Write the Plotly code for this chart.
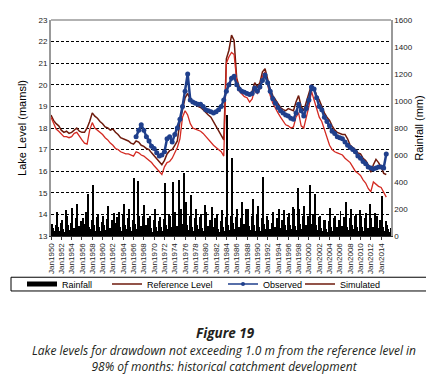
import plotly.graph_objects as go
import pandas as pd

# ---------------- data ----------------
# quarterly rainfall (mm), 1950 Q1 .. 2015 Q4
rain_q = [
    90, 60, 35, 80,    180, 70, 40, 95,    120, 55, 30, 190,   150, 85, 45, 100,
    210, 60, 35, 130,  240, 75, 50, 110,   130, 90, 40, 180,   312, 70, 55, 120,
    378, 85, 40, 140,  160, 65, 35, 105,   150, 80, 45, 125,   225, 60, 30, 115,
    170, 95, 50, 140,  180, 70, 40, 160,   240, 85, 55, 135,   200, 65, 35, 120,
    430, 90, 50, 407,  145, 75, 40, 150,   230, 80, 45, 130,   150, 60, 30, 120,
    200, 70, 40, 110,  140, 65, 35, 125,   392, 85, 50, 160,   145, 70, 400, 120,
    180, 75, 60, 415,  200, 90, 50, 465,   250, 80, 45, 150,   305, 70, 40, 130,
    200, 85, 55, 140,  160, 60, 35, 232,   180, 75, 45, 120,   215, 70, 40, 135,
    160, 55, 30, 110,  190, 65, 35, 140,   900, 80, 45, 150,   580, 95, 50, 140,
    200, 70, 40, 130,  254, 90, 55, 200,   200, 75, 45, 150,   276, 85, 40, 160,
    220, 70, 35, 130,  436, 90, 50, 150,   120, 55, 30, 100,   180, 70, 40, 130,
    200, 60, 35, 120,  190, 80, 45, 140,   170, 85, 50, 218,   200, 75, 45, 356,
    200, 90, 50, 150,  220, 80, 45, 150,   378, 90, 60, 160,   312, 80, 45, 140,
    150, 60, 35, 120,  120, 55, 30, 110,   204, 70, 40, 130,   150, 65, 35, 120,
    185, 75, 40, 140,  254, 70, 45, 130,   200, 80, 50, 150,   160, 65, 35, 190,
    150, 70, 40, 130,  170, 60, 35, 240,   130, 65, 40, 170,   150, 60, 35, 120,
    300, 70, 40, 110,  80, 50, 30, 60,
]

# half-yearly lake levels (m amsl), Jan/Jul, 1950 .. Jan 2015
ref_level = [
    18.6, 18.35, 18.2, 18.1, 17.9, 17.8, 17.85, 17.75, 17.8, 17.9,
    18.0, 17.85, 17.8, 17.8, 18.0, 18.3, 18.7, 18.55, 18.45, 18.3,
    18.2, 18.05, 18.0, 17.9, 17.95, 17.8, 17.7, 17.55, 17.5, 17.45,
    17.4, 17.3, 17.25, 17.4, 17.35, 17.2, 17.15, 17.05, 17.0, 16.85,
    16.7, 16.55, 16.45, 16.3, 16.5, 16.8, 16.95, 17.0, 17.2, 17.4,
    18.3, 18.9, 19.4, 19.6, 19.3, 19.2, 19.15, 19.0, 18.95, 18.85,
    18.7, 18.6, 18.5, 18.3, 18.1, 17.9, 17.7, 17.45, 21.2, 21.6,
    22.3, 22.05, 20.3, 19.9, 19.75, 19.7, 19.65, 19.55, 19.7, 20.1,
    19.9, 20.1, 20.6, 20.75, 20.3, 19.8, 19.5, 19.3, 19.1, 18.95,
    18.85, 18.8, 18.9, 18.85, 18.8, 19.2, 19.5, 19.0, 18.8, 19.2,
    19.6, 20.0, 19.85, 19.5, 19.3, 19.0, 18.7, 18.5, 18.35, 18.1,
    17.9, 17.8, 17.75, 17.7, 17.7, 17.5, 17.2, 17.1, 17.0, 16.85,
    16.8, 16.6, 16.5, 16.3, 15.95, 16.3, 16.55, 16.4, 16.2, 15.9,
    15.85,
]

simulated = [
    18.5, 18.2, 17.95, 17.85, 17.7, 17.6, 17.6, 17.55, 17.6, 17.75,
    17.8, 17.6, 17.45, 17.3, 17.25, 17.9, 18.25, 18.0, 17.9, 17.8,
    17.7, 17.55, 17.45, 17.3, 17.2, 17.05, 17.0, 16.9, 16.85, 16.8,
    16.8, 16.75, 16.7, 16.9, 16.85, 16.75, 16.7, 16.6, 16.5, 16.4,
    16.25, 16.1, 16.0, 15.85, 16.2, 16.4, 16.45, 16.6, 16.85, 17.1,
    17.5, 18.5, 18.8, 18.6, 18.2, 18.0, 17.95, 17.9, 17.85, 17.75,
    17.6, 17.45, 17.3, 17.2, 17.1, 17.0, 16.9, 16.7, 21.0, 21.3,
    21.5, 21.4, 20.2, 19.7, 19.55, 19.45, 19.4, 19.2, 19.35, 19.8,
    19.6, 19.8, 20.4, 20.6, 20.0, 19.5, 19.15, 18.9, 18.7, 18.5,
    18.3, 18.15, 18.1, 18.0, 18.05, 18.5, 18.7, 18.1, 18.0, 18.5,
    19.0, 19.7, 19.3, 18.9, 18.5, 18.3, 17.9, 17.5, 17.2, 17.0,
    16.9, 16.85, 16.8, 16.75, 16.6, 16.5, 16.4, 16.2, 16.0, 15.9,
    15.8, 15.6, 15.45, 15.2, 15.05, 15.5, 15.4, 15.3, 15.25, 15.0,
    14.8,
]

# observed, half-yearly from Jul 1966
observed = [
    17.6, 17.9, 18.15, 17.9, 17.6, 17.4, 17.15, 17.05, 16.85, 16.7,
    16.75, 16.9, 17.5, 17.6, 17.35, 17.7, 18.0, 18.4, 19.0, 19.7,
    20.5, 19.3, 19.2, 19.15, 19.1, 19.1, 19.0, 18.85, 18.8, 18.75,
    18.7, 18.75, 18.85, 19.0, 19.3, 19.7, 20.0, 20.3, 20.4, 20.0,
    19.8, 19.7, 19.65, 19.6, 19.55, 19.6, 19.85, 19.7, 19.9, 20.2,
    20.45, 20.1, 19.7, 19.35, 19.15, 18.95, 18.8, 18.7, 18.6, 18.55,
    18.45, 18.4, 18.7, 19.1, 18.8, 18.55, 18.9, 19.3, 19.9, 19.8,
    19.4, 19.0, 18.85, 18.5, 18.3, 18.1, 17.85, 17.75, 17.6, 17.55,
    17.5, 17.35, 17.2, 17.1, 17.0, 16.9, 16.7, 16.6, 16.45, 16.35,
    16.2, 16.15, 16.1, 16.15, 16.2, 16.2, 16.15, 16.8,
]

tick_years = list(range(1950, 2015, 2))
tick_labels = [f"Jan{y}" for y in tick_years]

caption_title = "Figure 19"
caption_lines = [
    "Lake levels for drawdown not exceeding 1.0 m from the reference level in",
    "98% of months: historical catchment development",
]

# ---------------- positions ----------------
rain_x = pd.date_range("1950-01-01", periods=len(rain_q), freq="QS") + pd.Timedelta(days=45)
ref_x = pd.date_range("1950-01-01", periods=len(ref_level), freq="6MS")
sim_x = pd.date_range("1950-01-01", periods=len(simulated), freq="6MS")
obs_x = pd.date_range("1966-07-01", periods=len(observed), freq="6MS")
tick_vals = [pd.Timestamp(f"{y}-01-01") for y in tick_years]

REF_C = "#6e1a0c"
SIM_C = "#d42a22"
OBS_C = "#1f3f8c"
FONT = "Liberation Sans, Arial, sans-serif"
CAP_FONT = "Open Sans, sans-serif"

fig = go.Figure()
fig.add_trace(go.Bar(x=rain_x, y=rain_q, yaxis="y", marker=dict(color="black", line=dict(width=0)),
                     width=70 * 86400000, showlegend=False, name="Rainfall"))
fig.add_trace(go.Scatter(x=ref_x, y=ref_level, yaxis="y2", mode="lines",
                         line=dict(color=REF_C, width=1.5), showlegend=False))
fig.add_trace(go.Scatter(x=sim_x, y=simulated, yaxis="y2", mode="lines",
                         line=dict(color=SIM_C, width=1.3), showlegend=False))
fig.add_trace(go.Scatter(x=obs_x, y=observed, yaxis="y2", mode="lines+markers",
                         line=dict(color=OBS_C, width=2.5), marker=dict(color=OBS_C, size=5),
                         showlegend=False))

# legend entries (one legend per entry so they sit where the reference puts them)
fig.add_trace(go.Scatter(x=[None], y=[None], mode="lines", name="Rainfall",
                         line=dict(color="black", width=5), legend="legend"))
fig.add_trace(go.Scatter(x=[None], y=[None], mode="lines", name="Reference Level",
                         line=dict(color=REF_C, width=1.5), legend="legend2"))
fig.add_trace(go.Scatter(x=[None], y=[None], mode="lines+markers", name="Observed",
                         line=dict(color=OBS_C, width=1.5), marker=dict(color=OBS_C, size=4),
                         legend="legend3"))
fig.add_trace(go.Scatter(x=[None], y=[None], mode="lines", name="Simulated",
                         line=dict(color=REF_C, width=1.5), legend="legend4"))

PL, PR, PT, PB = 43, 383, 8, 228
W = PR - PL
H = PB - PT

def px(x):
    return (x - PL) / W

def py(y):
    return (PB - y) / H

leg_common = dict(orientation="h", yanchor="middle", xanchor="left", bgcolor="rgba(0,0,0,0)",
                  font=dict(family=FONT, size=9, color="black"), itemwidth=30)
legends = {}
for key, tx in [("legend", 62), ("legend2", 147), ("legend3", 263), ("legend4", 340)]:
    d = dict(leg_common)
    d.update(x=px(tx - 48), y=py(277))
    legends[key] = d

fig.update_layout(
    width=434, height=377,
    margin=dict(l=PL, r=434 - PR, t=PT, b=377 - PB),
    paper_bgcolor="white", plot_bgcolor="white",
    font=dict(family=FONT, size=8, color="#222"),
    bargap=0,
    xaxis=dict(type="date", range=["1950-01-01", "2015-12-01"], tickvals=tick_vals, ticktext=tick_labels,
               tickangle=-90, tickfont=dict(size=8, color="#222"), showgrid=False,
               showline=True, linecolor="#333", linewidth=1, ticks="outside", ticklen=3,
               tickcolor="#333", zeroline=False),
    yaxis=dict(side="right", range=[0, 1600], dtick=200, showgrid=False, zeroline=False,
               showline=True, linecolor="#999", linewidth=1.5, ticks="",
               tickfont=dict(size=8, color="#222"),
               title=dict(text="Rainfall (mm)", font=dict(size=11, color="black"), standoff=2)),
    yaxis2=dict(side="left", overlaying="y", range=[13, 23], dtick=1, showgrid=True,
                gridcolor="black", gridwidth=1, griddash="3px,2px", zeroline=False,
                showline=True, linecolor="#999", linewidth=2, ticks="",
                tickfont=dict(size=8, color="#222"),
                title=dict(text="Lake Level (mamsl)", font=dict(size=11, color="black"), standoff=10)),
    showlegend=True,
    **legends,
    shapes=[
        dict(type="line", xref="paper", yref="paper", x0=0, x1=1, y0=1, y1=1,
             line=dict(color="#999", width=1.5)),
        dict(type="rect", xref="paper", yref="paper", x0=px(3), x1=px(428), y0=py(284), y1=py(270),
             line=dict(color="black", width=1)),
    ],
    annotations=[
        dict(text=f"<b><i>{caption_title}</i></b>", xref="paper", yref="paper", x=px(217), y=py(327),
             showarrow=False, font=dict(family=CAP_FONT, size=13.5, color="#231f20"),
             xanchor="center", yanchor="middle"),
        dict(text=f"<i>{caption_lines[0]}</i><br><i>{caption_lines[1]}</i>", xref="paper", yref="paper",
             x=px(216), y=py(353), showarrow=False, align="center",
             font=dict(family=CAP_FONT, size=12, color="#231f20"),
             xanchor="center", yanchor="middle"),
    ],
)

fig.write_html("out.html")
